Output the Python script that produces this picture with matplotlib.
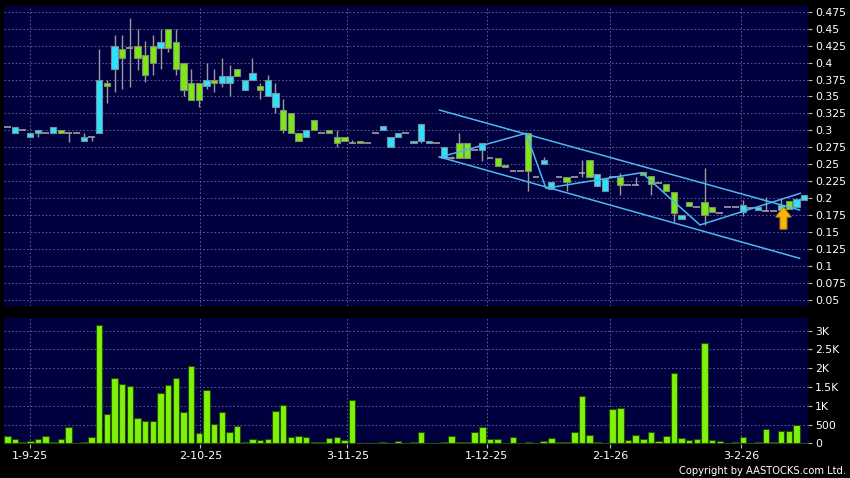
import numpy as np
import matplotlib
matplotlib.use('Agg')
import matplotlib.pyplot as plt
import matplotlib.ticker as ticker

# daily OHLC (bar 0 = 27-8-25)
opens = [0.305, 0.296, 0.300, 0.290, 0.296, 0.296, 0.296, 0.300, 0.296, 0.296,
         0.285, 0.290, 0.296, 0.370, 0.390, 0.420, 0.421, 0.425, 0.411, 0.425,
         0.421, 0.450, 0.431, 0.400, 0.370, 0.370, 0.365, 0.375, 0.370, 0.370,
         0.390, 0.360, 0.375, 0.365, 0.350, 0.334, 0.330, 0.325, 0.296, 0.290,
         0.315, 0.296, 0.300, 0.290, 0.290, 0.281, 0.285, 0.281, 0.296, 0.300,
         0.275, 0.290, 0.296, 0.281, 0.285, 0.281, 0.281, 0.260, 0.260, 0.281,
         0.281, 0.271, 0.271, 0.260, 0.260, 0.249, 0.240, 0.240, 0.296, 0.231,
         0.250, 0.213, 0.231, 0.231, 0.231, 0.237, 0.2565, 0.218, 0.210, 0.232,
         0.231, 0.2195, 0.2195, 0.238, 0.233, 0.222, 0.221, 0.209, 0.169, 0.194,
         0.187, 0.194, 0.1876, 0.179, 0.187, 0.187, 0.180, 0.186, 0.1827, 0.181,
         0.181, 0.182, 0.1955, 0.187, 0.1975]
highs = [0.305, 0.305, 0.300, 0.296, 0.300, 0.296, 0.305, 0.300, 0.296, 0.296,
         0.296, 0.290, 0.420, 0.375, 0.441, 0.441, 0.465, 0.450, 0.432, 0.441,
         0.450, 0.450, 0.450, 0.400, 0.390, 0.370, 0.400, 0.390, 0.406, 0.396,
         0.390, 0.375, 0.406, 0.370, 0.381, 0.370, 0.346, 0.325, 0.296, 0.300,
         0.315, 0.296, 0.300, 0.300, 0.290, 0.286, 0.285, 0.281, 0.296, 0.306,
         0.290, 0.296, 0.296, 0.285, 0.310, 0.285, 0.281, 0.275, 0.263, 0.296,
         0.281, 0.271, 0.281, 0.260, 0.260, 0.249, 0.240, 0.240, 0.296, 0.231,
         0.261, 0.2245, 0.231, 0.231, 0.231, 0.2565, 0.2565, 0.236, 0.228, 0.232,
         0.237, 0.2195, 0.232, 0.238, 0.233, 0.222, 0.221, 0.209, 0.176, 0.194,
         0.187, 0.244, 0.1876, 0.179, 0.187, 0.187, 0.1975, 0.186, 0.1876, 0.2023,
         0.181, 0.200, 0.1955, 0.1985, 0.2049]
lows = [0.305, 0.296, 0.300, 0.290, 0.290, 0.296, 0.296, 0.296, 0.283, 0.296,
        0.285, 0.285, 0.296, 0.340, 0.356, 0.361, 0.364, 0.389, 0.371, 0.381,
        0.390, 0.415, 0.381, 0.350, 0.345, 0.335, 0.361, 0.356, 0.364, 0.350,
        0.380, 0.360, 0.375, 0.346, 0.350, 0.325, 0.296, 0.296, 0.285, 0.290,
        0.300, 0.296, 0.296, 0.275, 0.285, 0.281, 0.281, 0.281, 0.296, 0.300,
        0.275, 0.290, 0.296, 0.281, 0.281, 0.281, 0.281, 0.260, 0.258, 0.260,
        0.260, 0.271, 0.255, 0.260, 0.2475, 0.246, 0.240, 0.240, 0.210, 0.231,
        0.250, 0.213, 0.231, 0.211, 0.231, 0.231, 0.231, 0.218, 0.210, 0.232,
        0.205, 0.2195, 0.2195, 0.235, 0.205, 0.222, 0.211, 0.165, 0.169, 0.1886,
        0.187, 0.1606, 0.180, 0.179, 0.187, 0.187, 0.174, 0.186, 0.1827, 0.181,
        0.181, 0.182, 0.1837, 0.187, 0.1975]
closes = [0.305, 0.305, 0.300, 0.296, 0.300, 0.296, 0.305, 0.296, 0.296, 0.296,
          0.290, 0.290, 0.375, 0.365, 0.425, 0.406, 0.421, 0.406, 0.381, 0.400,
          0.431, 0.421, 0.390, 0.360, 0.345, 0.345, 0.375, 0.370, 0.380, 0.380,
          0.380, 0.375, 0.385, 0.360, 0.375, 0.355, 0.300, 0.296, 0.285, 0.300,
          0.300, 0.296, 0.296, 0.281, 0.285, 0.281, 0.281, 0.281, 0.296, 0.306,
          0.290, 0.296, 0.296, 0.285, 0.310, 0.285, 0.281, 0.275, 0.260, 0.260,
          0.260, 0.271, 0.281, 0.260, 0.2475, 0.246, 0.240, 0.240, 0.240, 0.231,
          0.2565, 0.2245, 0.231, 0.2245, 0.231, 0.237, 0.231, 0.236, 0.228, 0.232,
          0.2195, 0.2195, 0.2195, 0.235, 0.221, 0.222, 0.211, 0.178, 0.176, 0.1886,
          0.187, 0.176, 0.180, 0.179, 0.187, 0.187, 0.190, 0.186, 0.1876, 0.181,
          0.181, 0.190, 0.1837, 0.1985, 0.2049]
volumes = [204, 115, 35, 62, 106, 195, 27, 124, 435, 15,
           35, 177, 3140, 772, 1739, 1579, 1526, 683, 603, 603,
           1340, 1562, 1730, 843, 2059, 266, 1420, 515, 834, 310,
           453, 27, 115, 89, 115, 870, 1010, 160, 186, 169,
           35, 35, 151, 169, 98, 1145, 20, 20, 0, 30,
           5, 60, 0, 30, 305, 0, 20, 50, 190, 50,
           30, 293, 426, 120, 128, 0, 165, 0, 50, 20,
           55, 142, 35, 35, 300, 1255, 222, 27, 0, 914,
           940, 98, 222, 124, 300, 53, 186, 1863, 133, 98,
           115, 2670, 98, 62, 18, 44, 169, 18, 44, 373,
           35, 320, 320, 480, 15]

date_labels = ['1-9-25', '2-10-25', '3-11-25', '1-12-25', '2-1-26', '3-2-26']
date_bars = [3, 25.2, 44.4, 62.6, 78.7, 95.8]

# drawn trend lines (bar index, price)
channel_upper = [(56.4, 0.330), (103.4, 0.1827)]
channel_lower = [(56.4, 0.2608), (103.4, 0.1115)]
zigzag = [(56.4, 0.2604), (67.7, 0.2958), (70.3, 0.2147), (82.8, 0.2377),
          (90.4, 0.1606), (103.5, 0.2073)]
arrow_bar = 101.3

navy = '#00003f'
up_col = '#2ce3ff'
down_col = '#7ee817'
grid_col = '#6a6aa0'
line_col = '#4cb8ee'

fig = plt.figure(figsize=(8.5, 4.78), dpi=100, facecolor='black')
ax = fig.add_axes([4/850, 1-306/478, 804/850, 300.3/478])
axv = fig.add_axes([4/850, 1-444/478, 804/850, 125.7/478])

x = np.arange(len(opens))
o = np.array(opens)
c = np.array(closes)
h = np.array(highs)
l = np.array(lows)

# wicks
ax.vlines(x, l, h, color='#9a9a9a', lw=1, zorder=2)
# bodies
flat = np.isclose(o, c)
up = (c > o) & ~flat
down = (c < o) & ~flat
ax.bar(x[up], (c - o)[up], bottom=o[up], width=0.82, color=up_col,
       edgecolor='#7a8c94', linewidth=0.8, zorder=3)
ax.bar(x[down], (o - c)[down], bottom=c[down], width=0.82, color=down_col,
       edgecolor='#7a8c74', linewidth=0.8, zorder=3)
ax.hlines(o[flat], x[flat] - 0.45, x[flat] + 0.45, color='#a0a0a0', lw=1.2, zorder=3)

# channel and zigzag
for pts in (channel_upper, channel_lower, zigzag):
    px, py = zip(*pts)
    ax.plot(px, py, color=line_col, lw=1.1, zorder=4)

ax.arrow(arrow_bar, 0.1545, 0, 0.0325, width=0.9, head_width=2.0, head_length=0.0147,
         length_includes_head=True, fc='#f6b60c', ec='#c98a00', lw=0.8, zorder=5)

# volume
axv.bar(x, volumes, width=0.85, color='#7ef20a', edgecolor='#264f00', linewidth=0.8, zorder=3)

for a in (ax, axv):
    a.set_facecolor(navy)
    a.set_xlim(-0.43, 104.5)
    for s in a.spines.values():
        s.set_visible(False)
    a.yaxis.tick_right()
    a.set_xticks(date_bars)
    a.grid(True, color=grid_col, linestyle=(0, (2, 2.5)), linewidth=0.6, zorder=0)
    a.set_axisbelow(True)
    a.tick_params(axis='y', direction='out', length=3, width=0.8, color='#bbbbbb',
                  labelcolor='white', labelsize=7.8, pad=2)

ax.set_ylim(0.0412, 0.4838)
ax.yaxis.set_major_locator(ticker.MultipleLocator(0.025))
ax.yaxis.set_major_formatter(ticker.FuncFormatter(lambda v, p: '%g' % round(v, 3)))
ax.tick_params(axis='x', length=0, labelbottom=False)

axv.set_ylim(-15, 3330)
axv.yaxis.set_major_locator(ticker.MultipleLocator(500))
axv.yaxis.set_major_formatter(ticker.FuncFormatter(
    lambda v, p: '0' if v == 0 else ('%gK' % (v / 1000) if v >= 1000 else '%d' % v)))
axv.set_xticklabels(date_labels)
axv.tick_params(axis='x', direction='out', length=3, width=0.8, color='#bbbbbb',
                labelcolor='white', labelsize=8, pad=2)

fig.text(846/850, 1-471/478, 'Copyright by AASTOCKS.com Ltd.', color='white',
         fontsize=7.2, ha='right', va='center')

fig.savefig('out.png', dpi=100, facecolor='black')
